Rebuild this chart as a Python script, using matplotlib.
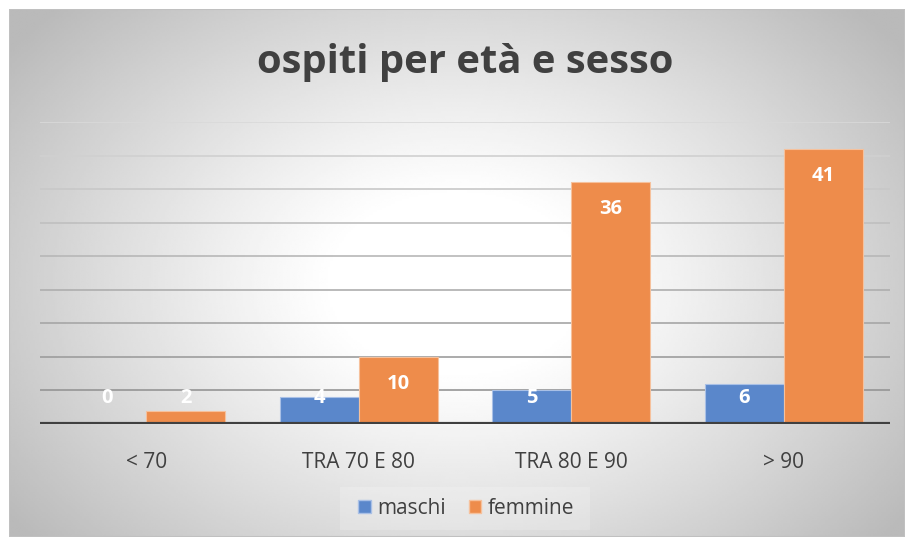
import numpy as np
import matplotlib
matplotlib.use("Agg")
import matplotlib.pyplot as plt
from matplotlib.patches import Rectangle

categories = ["< 70", "TRA 70 E 80", "TRA 80 E 90", "> 90"]
maschi = [0, 4, 5, 6]
femmine = [2, 10, 36, 41]
series_names = ["maschi", "femmine"]
title = "ospiti per età e sesso"

W, H = 907, 539
fig = plt.figure(figsize=(W / 100, H / 100), dpi=100)
fig.patch.set_facecolor("white")

def fx(px):
    return px / W

def fy(py):
    return 1 - py / H

# background gradient panel
L, T, R, B = 9, 9, 905, 537
bg = fig.add_axes([fx(L), fy(B), fx(R - L), (B - T) / H])
nx, ny = 400, 240
xx, yy = np.meshgrid(np.linspace(0, 1, nx), np.linspace(0, 1, ny))
cx, cy = 0.50, 0.52
d = np.sqrt(((xx - cx) / 0.62) ** 2 + ((yy - cy) / 0.75) ** 2)
val = np.clip(1.0 - 0.27 * np.clip((d - 0.22) / 0.78, 0, 1) ** 1.1, 0, 1)
bg.imshow(val, cmap="gray", vmin=0, vmax=1, aspect="auto", extent=[0, 1, 1, 0], interpolation="bilinear")
bg.set_xlim(0, 1)
bg.set_ylim(1, 0)
bg.axis("off")
bg.add_patch(Rectangle((0, 0), 1, 1, transform=bg.transAxes, fill=False, edgecolor="#c0c0c0", lw=1.5))

# main axes
aL, aT, aR, aB = 40, 122, 890, 424
ax = fig.add_axes([fx(aL), fy(aB), fx(aR - aL), (aB - aT) / H])
ax.patch.set_alpha(0)
ax.set_xlim(-0.5, len(categories) - 0.5)
ax.set_ylim(0, 45)

x = np.arange(len(categories))
bw = 0.372
c_m = "#5a87cb"
c_f = "#ee8c4b"
ax.bar(x - bw / 2, maschi, bw, color=c_m, edgecolor="#a9c0e6", linewidth=0.8, zorder=3)
ax.bar(x + bw / 2, femmine, bw, color=c_f, edgecolor="#f6c19c", linewidth=0.8, zorder=3)

# gridlines
grid_vals = np.arange(5, 50, 5)
for gv in grid_vals:
    frac = gv / 45
    g = 0.55 + 0.30 * frac
    ax.axhline(gv, color=(g, g, g), lw=1.2, zorder=1)
ax.axhline(0, color="#404040", lw=3, zorder=4)

# data labels
for xs, vals in ((x - bw / 2, maschi), (x + bw / 2, femmine)):
    for xi, v in zip(xs, vals):
        ly = max(v - 4.0, 3.9)
        ax.text(xi, ly, str(v), ha="center", va="center", color="white",
                fontsize=14.5, fontweight="bold", family="Open Sans", zorder=5)

for s in ax.spines.values():
    s.set_visible(False)
ax.set_yticks([])
ax.set_xticks(x)
ax.set_xticklabels(categories, family="Open Sans", fontsize=15, color="#404040")
ax.tick_params(axis="x", length=0, pad=20)

fig.text(fx(465), fy(62), title, ha="center", va="center", fontsize=28.8,
         fontweight="bold", family="Open Sans", color="#404040")

# legend
lg_bg = Rectangle((fx(340), fy(530)), fx(250), (530 - 487) / H, transform=fig.transFigure,
                  facecolor="white", alpha=0.2, edgecolor="none")
fig.patches.append(lg_bg)
handles = [Rectangle((0, 0), 1, 1, facecolor=c_m, edgecolor="#a9c0e6"),
           Rectangle((0, 0), 1, 1, facecolor=c_f, edgecolor="#f6c19c")]
leg = fig.legend(handles, series_names, loc="center", bbox_to_anchor=(fx(466), fy(508)),
                 ncol=2, frameon=False, prop={"family": "Open Sans", "size": 15},
                 handlelength=0.6, handleheight=0.6, handletextpad=0.3, columnspacing=1.1)
for t in leg.get_texts():
    t.set_color("#404040")

fig.savefig("out.png", dpi=100, facecolor="white")
